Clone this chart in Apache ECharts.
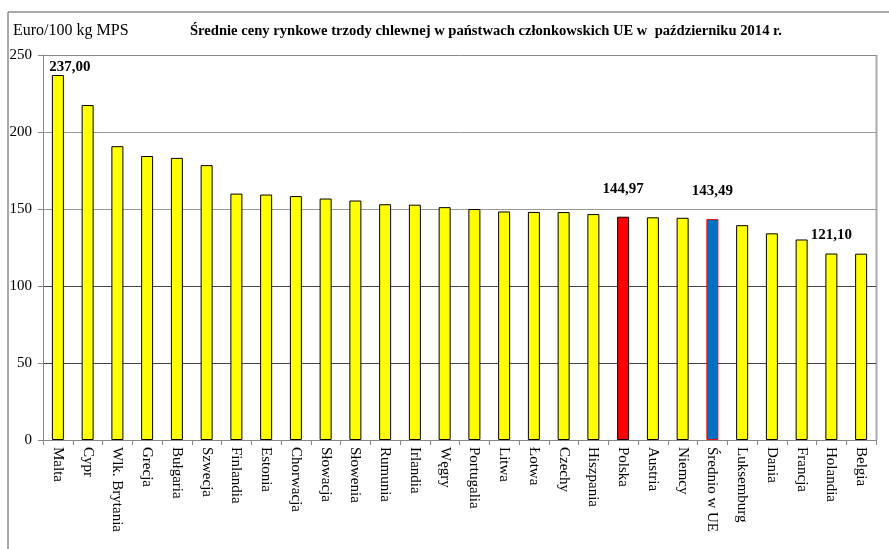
<!DOCTYPE html>
<html>
<head>
    <meta charset="utf-8">
    <title>ECharts</title>
    <script src="https://cdn.jsdelivr.net/npm/echarts@6/dist/echarts.min.js"></script>
</head>
<body style="margin:0;background-color:#fff">
<div id="main" style="width:889px;height:549px"></div>
<script type="text/javascript">
    var countries = ['Malta', 'Cypr', 'Wlk. Brytania', 'Grecja', 'Bułgaria', 'Szwecja', 'Finlandia', 'Estonia',
        'Chorwacja', 'Słowacja', 'Słowenia', 'Rumunia', 'Irlandia', 'Węgry', 'Portugalia', 'Litwa', 'Łotwa',
        'Czechy', 'Hiszpania', 'Polska', 'Austria', 'Niemcy', 'Średnio w UE', 'Luksemburg', 'Dania', 'Francja',
        'Holandia', 'Belgia'];
    var prices = [237.00, 217.5, 190.8, 184.4, 183.2, 178.5, 160.0, 159.4, 158.4, 156.8, 155.5, 153.1, 152.8,
        151.2, 150.0, 148.4, 148.1, 148.0, 146.7, 144.97, 144.6, 144.3, 143.49, 139.5, 134.2, 130.2, 121.10, 121.0];
    var yTicks = [0, 50, 100, 150, 200, 250];
    // which bars get a printed value
    var labelled = ['Malta', 'Polska', 'Średnio w UE', 'Holandia'];

    var serif = '"Liberation Serif", "DejaVu Serif", serif';

    function fmt(v) {
        return v.toFixed(2).replace('.', ',');
    }

    var barData = prices.map(function (v, i) {
        var name = countries[i];
        var item = {value: v, itemStyle: {color: '#FFFF00', borderColor: '#000', borderWidth: 1}};
        if (name === 'Polska') {
            item.itemStyle = {color: '#FF0000', borderColor: '#000', borderWidth: 1};
        }
        if (name === 'Średnio w UE') {
            item.itemStyle = {color: '#0070C0', borderColor: '#FF0000', borderWidth: 1};
        }
        if (labelled.indexOf(name) >= 0) {
            item.label = {
                show: true,
                position: 'top',
                distance: name === 'Malta' ? 0 : (name === 'Holandia' ? 11 : 20),
                offset: name === 'Malta' ? [12, 0] : [0, 0],
                formatter: fmt(v),
                fontFamily: serif,
                fontWeight: 'bold',
                fontSize: 15,
                color: '#000'
            };
        }
        return item;
    });

    var myChart = echarts.init(document.getElementById('main'));
    var option = {
        animation: false,
        backgroundColor: '#fff',
        textStyle: {fontFamily: serif},
        graphic: [
            {
                type: 'rect',
                shape: {x: 8, y: 12, width: 900, height: 560},
                style: {fill: 'none', stroke: '#555', lineWidth: 1}
            },
            {
                type: 'text',
                left: 13, top: 23,
                style: {text: 'Euro/100 kg MPS', font: '16px ' + serif, fill: '#000'}
            },
            {
                type: 'text',
                left: 190, top: 24,
                style: {
                    text: 'Średnie ceny rynkowe trzody chlewnej w państwach członkowskich UE w  październiku 2014 r.',
                    font: 'bold 14.6px ' + serif, fill: '#000'
                }
            },
            {
                type: 'line',
                shape: {x1: 876.5, y1: 55, x2: 876.5, y2: 440},
                style: {stroke: '#aaa', lineWidth: 2}
            }
        ],
        grid: {left: 43, right: 13, top: 55, bottom: 109},
        xAxis: {
            type: 'category',
            data: countries,
            axisLine: {lineStyle: {color: '#888'}},
            axisTick: {show: true, length: 5, lineStyle: {color: '#888'}},
            axisLabel: {
                rotate: -90,
                interval: 0,
                margin: 7,
                fontFamily: serif,
                fontSize: 15,
                color: '#000'
            }
        },
        yAxis: {
            type: 'value',
            min: 0,
            max: 250,
            interval: 50,
            axisLine: {show: true, lineStyle: {color: '#888'}},
            axisTick: {show: true, length: 5, lineStyle: {color: '#888'}},
            axisLabel: {
                margin: 11,
                fontFamily: serif,
                fontSize: 15,
                color: '#000',
                formatter: function (v) {
                    return yTicks.indexOf(v) >= 0 ? String(v) : '';
                }
            },
            splitLine: {lineStyle: {color: ['#555', '#444', '#444', '#999', '#999', '#888'], width: 1}}
        },
        series: [{
            type: 'bar',
            data: barData,
            barWidth: 12
        }]
    };
    myChart.setOption(option);
</script>
</body>
</html>
